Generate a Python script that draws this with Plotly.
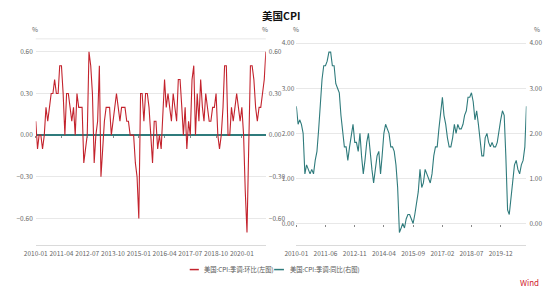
import plotly.graph_objects as go
import pandas as pd

W, H = 550, 291

title = "美国CPI"
name_mom = "美国:CPI:季调:环比(左图)"
name_yoy = "美国:CPI:季调:同比(右图)"
unit = "%"
source = "Wind"

months = pd.date_range("2010-01-01", periods=135, freq="MS").strftime("%Y-%m-%d").tolist()

mom = [
    0.1, -0.1, 0.0, 0.0, -0.1, 0.0, 0.2, 0.1, 0.2, 0.3, 0.3, 0.4,
    0.3, 0.3, 0.5, 0.5, 0.3, 0.0, 0.3, 0.3, 0.2, 0.1, 0.2, 0.0,
    0.3, 0.2, 0.2, 0.2, -0.2, -0.1, 0.0, 0.6, 0.5, 0.3, -0.2, 0.0,
    0.1, 0.5, -0.3, -0.1, 0.1, 0.2, 0.2, 0.2, 0.0, 0.1, 0.2, 0.3,
    0.2, 0.1, 0.2, 0.2, 0.2, 0.1, 0.1, 0.0, 0.0, 0.0, -0.2, -0.3,
    -0.6, 0.3, 0.3, 0.1, 0.3, 0.3, 0.2, 0.0, -0.2, 0.1, 0.1, -0.1,
    0.0, -0.1, 0.2, 0.4, 0.2, 0.3, 0.2, 0.1, 0.3, 0.2, 0.1, 0.4,
    0.4, 0.2, 0.0, 0.2, -0.1, 0.1, 0.0, 0.4, 0.5, 0.0, 0.3, 0.1,
    0.4, 0.2, 0.1, 0.3, 0.2, 0.1, 0.1, 0.2, 0.2, 0.3, 0.0, -0.1,
    0.0, 0.2, 0.5, 0.5, 0.0, 0.0, 0.2, 0.1, 0.2, 0.3, 0.2, 0.1,
    0.2, 0.0, -0.4, -0.7, -0.1, 0.5, 0.5, 0.4, 0.2, 0.1, 0.2, 0.2,
    0.3, 0.4, 0.6,
]

yoy = [
    2.6, 2.2, 2.3, 2.2, 2.0, 1.1, 1.3, 1.2, 1.1, 1.2, 1.1, 1.4,
    1.6, 2.1, 2.7, 3.2, 3.5, 3.5, 3.6, 3.8, 3.8, 3.5, 3.5, 3.1,
    3.0, 2.9, 2.4, 2.0, 1.7, 1.7, 1.4, 1.7, 2.0, 2.2, 1.8, 1.8,
    1.6, 2.0, 1.5, 1.1, 1.4, 1.8, 2.0, 1.5, 1.2, 0.9, 1.2, 1.5,
    1.6, 1.1, 1.5, 2.0, 2.2, 2.1, 2.0, 1.7, 1.7, 1.6, 1.3, 0.8,
    -0.2, -0.1, 0.0, -0.1, 0.1, 0.2, 0.2, 0.1, 0.0, 0.2, 0.5, 0.7,
    1.2, 0.8, 0.9, 1.2, 1.1, 1.0, 0.9, 1.1, 1.5, 1.7, 1.7, 2.1,
    2.5, 2.8, 2.4, 2.2, 1.9, 1.7, 1.7, 1.9, 2.2, 2.0, 2.2, 2.1,
    2.1, 2.2, 2.4, 2.5, 2.8, 2.8, 2.9, 2.7, 2.3, 2.5, 2.2, 1.9,
    1.5, 1.5, 1.9, 2.0, 1.8, 1.7, 1.8, 1.7, 1.7, 1.8, 2.1, 2.3,
    2.5, 2.4, 1.5, 0.3, 0.2, 0.6, 1.0, 1.3, 1.4, 1.2, 1.1, 1.3,
    1.4, 1.7, 2.6,
]

left_xticks = ["2010-01", "2011-04", "2012-07", "2013-10", "2015-01",
               "2016-04", "2017-07", "2018-10", "2020-01"]
right_xticks = ["2010-01", "2011-06", "2012-11", "2014-04", "2015-09",
                "2017-02", "2018-07", "2019-12"]
left_yticks = [-0.6, -0.3, 0.0, 0.3, 0.6]
right_yticks = [0, 1, 2, 3, 4]

RED = "#C3232D"
TEAL = "#2F7B7C"
GRID = "#E8E8E8"
TXT = "#666666"
FONT = "Noto Sans CJK SC, Noto Sans, sans-serif"

def px(x):
    return x / W

def py(y):
    return 1 - y / H

xd1 = [px(24.3), px(259.5)]
xd2 = [px(290.7), px(525.9)]
yd = [py(245), py(38)]
xr = [months[0], months[-1]]

fig = go.Figure()
fig.add_trace(go.Scatter(x=months, y=mom, mode="lines", name=name_mom,
                         line=dict(color=RED, width=1.1), xaxis="x", yaxis="y",
                         showlegend=False))
fig.add_trace(go.Scatter(x=months, y=yoy, mode="lines", name=name_yoy,
                         line=dict(color=TEAL, width=1.1), xaxis="x2", yaxis="y2",
                         showlegend=False))

tickfont = dict(family=FONT, size=6.5, color=TXT)

def xax(domain, ticks, anchor):
    return dict(domain=domain, type="date", range=xr, anchor=anchor,
                tickvals=[t + "-01" for t in ticks], ticktext=ticks, tickangle=0,
                showgrid=False, zeroline=False, showline=True, linecolor="#DADADA",
                linewidth=1, ticks="", tickfont=tickfont, ticklabelstandoff=2)

def xtickax(domain, ticks, over, pos):
    return dict(domain=domain, type="date", range=xr, overlaying=over, anchor="free",
                position=pos, tickvals=[t + "-01" for t in ticks], showticklabels=False,
                showgrid=False, zeroline=False, showline=False, ticks="outside",
                ticklen=2, tickwidth=1, tickcolor="#888888")

fig.update_layout(
    width=W, height=H, margin=dict(l=0, r=0, t=0, b=0),
    paper_bgcolor="white", plot_bgcolor="white",
    font=dict(family=FONT, color=TXT),
    xaxis=xax(xd1, left_xticks, "y"),
    xaxis2=xax(xd2, right_xticks, "y2"),
    xaxis3=xtickax(xd1, left_xticks, "x", py(134.7)),
    xaxis4=xtickax(xd2, right_xticks, "x2", py(223.3)),
    yaxis=dict(domain=yd, range=[-0.792, 0.693], anchor="x", tickvals=left_yticks,
               tickformat=".2f", showgrid=True, gridcolor=GRID, gridwidth=1,
               zeroline=True, zerolinecolor=TEAL, zerolinewidth=1.5,
               ticks="", tickfont=tickfont, ticklabelstandoff=2),
    yaxis3=dict(domain=yd, range=[-0.792, 0.693], anchor="x", overlaying="y", side="right",
                tickvals=left_yticks, tickformat=".2f", showgrid=False, zeroline=False,
                ticks="", tickfont=tickfont, ticklabelstandoff=2),
    yaxis2=dict(domain=yd, range=[-0.48, 4.095], anchor="x2", tickvals=right_yticks,
                tickformat=".2f", showgrid=True, gridcolor=GRID, gridwidth=1,
                zeroline=False, ticks="", tickfont=tickfont, ticklabelstandoff=1),
    yaxis4=dict(domain=yd, range=[-0.48, 4.095], anchor="x2", overlaying="y2", side="right",
                tickvals=right_yticks, tickformat=".2f", showgrid=False, zeroline=False,
                ticks="", tickfont=tickfont, ticklabelstandoff=2),
)

# invisible traces on the overlay axes so they render
fig.add_trace(go.Scatter(x=months, y=mom, xaxis="x3", yaxis="y3", mode="lines",
                         line=dict(width=0), hoverinfo="skip", showlegend=False, opacity=0))
fig.add_trace(go.Scatter(x=months, y=yoy, xaxis="x4", yaxis="y4", mode="lines",
                         line=dict(width=0), hoverinfo="skip", showlegend=False, opacity=0))

shapes = [
    dict(type="line", xref="paper", yref="paper", x0=xd1[0], x1=xd1[1], y0=yd[1], y1=yd[1],
         line=dict(color=GRID, width=1)),
    dict(type="line", xref="paper", yref="paper", x0=px(181.7), x1=px(191), y0=py(269.5), y1=py(269.5),
         line=dict(color=RED, width=1.5)),
    dict(type="line", xref="paper", yref="paper", x0=px(268), x1=px(278), y0=py(269.5), y1=py(269.5),
         line=dict(color=TEAL, width=1.5)),
]

ann = [
    dict(text=f"<b>{title}</b>", x=0.5, y=py(15), font=dict(size=10.5, color="#111111")),
    dict(text=unit, x=px(24), y=py(28), font=dict(size=6.5, color=TXT)),
    dict(text=unit, x=px(259), y=py(28), font=dict(size=6.5, color=TXT)),
    dict(text=unit, x=px(290), y=py(28), font=dict(size=6.5, color=TXT)),
    dict(text=unit, x=px(537), y=py(28), font=dict(size=6.5, color=TXT)),
    dict(text=name_mom, x=px(194), y=py(269.5), xanchor="left", font=dict(size=6.3, color="#555555")),
    dict(text=name_yoy, x=px(282), y=py(269.5), xanchor="left", font=dict(size=6.3, color="#555555")),
    dict(text=source, x=px(529), y=py(282), font=dict(size=8, color="#D0202E")),
]
for a in ann:
    a.setdefault("xanchor", "center")
    a.update(xref="paper", yref="paper", showarrow=False, yanchor="middle",
             font=dict(family=FONT, **a["font"]))

fig.update_layout(shapes=shapes, annotations=ann)
fig.write_html("out.html")
